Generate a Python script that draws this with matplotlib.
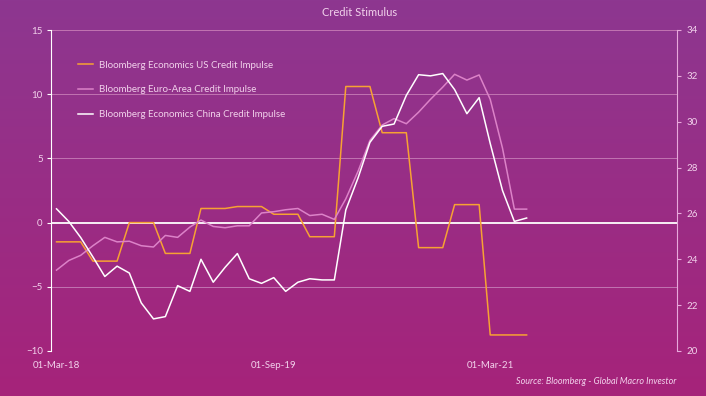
"""Credit Stimulus: US / Euro-Area / China credit impulse, GMI style."""

import matplotlib
matplotlib.use("Agg")
import matplotlib.pyplot as plt
import matplotlib.dates as mdates
import numpy as np
import pandas as pd

plt.rcParams["font.family"] = ["Lato", "DejaVu Sans"]

# monthly, Mar-2018 .. Jun-2021
dates = pd.date_range("2018-03-01", periods=40, freq="MS")

us_impulse = [-1.5, -1.5, -1.5, -3.0, -3.0, -3.0, 0.0, 0.0, 0.0, -2.4,
              -2.4, -2.4, 1.1, 1.1, 1.1, 1.25, 1.25, 1.25, 0.65, 0.65,
              0.65, -1.1, -1.1, -1.1, 10.6, 10.6, 10.6, 7.0, 7.0, 7.0,
              -1.95, -1.95, -1.95, 1.4, 1.4, 1.4, -8.75, -8.75, -8.75, -8.75]

euro_impulse = [-3.7, -2.95, -2.55, -1.8, -1.15, -1.5, -1.45, -1.8, -1.9, -1.0,
                -1.15, -0.35, 0.2, -0.3, -0.4, -0.25, -0.25, 0.75, 0.85, 1.0,
                1.1, 0.55, 0.65, 0.25, 1.85, 4.0, 6.4, 7.6, 8.1, 7.7,
                8.6, 9.6, 10.55, 11.55, 11.1, 11.5, 9.6, 5.8, 1.05, 1.05]

# right axis
china_impulse = [26.2, 25.65, 24.95, 24.1, 23.25, 23.7, 23.4, 22.1, 21.4, 21.5,
                 22.85, 22.6, 24.0, 23.0, 23.65, 24.25, 23.15, 22.95, 23.2, 22.6,
                 23.0, 23.15, 23.1, 23.1, 26.15, 27.55, 29.1, 29.8, 29.9, 31.15,
                 32.05, 32.0, 32.1, 31.4, 30.35, 31.05, 29.05, 27.0, 25.65, 25.8]

xtick_dates = pd.to_datetime(["2018-03-01", "2019-09-01", "2021-03-01"])

TXT = "#f2d2ec"
GRID = "#c274b2"

fig = plt.figure(figsize=(7.06, 3.96), dpi=100)

# vertical purple -> magenta gradient background
bg = fig.add_axes([0, 0, 1, 1], zorder=-10)
top = np.array([0x8d, 0x37, 0x90]) / 255
bot = np.array([0xa6, 0x23, 0x7a]) / 255
t = np.linspace(0, 1, 256)[:, None]
grad = (top * (1 - t) + bot * t)[:, None, :]
bg.imshow(grad, aspect="auto", extent=[0, 1, 0, 1])
bg.set_axis_off()

ax = fig.add_axes([51 / 706, 45 / 396, 626 / 706, 321 / 396])
ax.patch.set_alpha(0)
ax2 = ax.twinx()

l_us, = ax.plot(dates, us_impulse, color="#f7a233", lw=1.1,
                label="Bloomberg Economics US Credit Impulse")
l_eu, = ax.plot(dates, euro_impulse, color="#dc82c8", lw=1.1,
                label="Bloomberg Euro-Area Credit Impulse")
l_cn, = ax2.plot(dates, china_impulse, color="white", lw=1.1,
                 label="Bloomberg Economics China Credit Impulse")

ax.axhline(0, color="white", lw=1.3, zorder=1)

ax.set_ylim(-10, 15)
ax.set_yticks(range(-10, 16, 5))
ax2.set_ylim(20, 34)
ax2.set_yticks(range(20, 35, 2))
ax.set_xlim(pd.Timestamp("2018-02-15"), pd.Timestamp("2022-06-16"))

ax.set_xticks(xtick_dates)
ax.xaxis.set_major_formatter(mdates.DateFormatter("%d-%b-%y"))

for y in [-10, -5, 5, 10, 15]:
    ax.axhline(y, color=GRID, lw=0.7, zorder=0)

for a in (ax, ax2):
    for s in ("top", "bottom"):
        a.spines[s].set_visible(False)
ax.spines["right"].set_visible(False)
ax2.spines["left"].set_visible(False)
ax.spines["left"].set_color("white")
ax2.spines["right"].set_color("#e8a8dc")

ax.tick_params(axis="y", colors="white", labelcolor=TXT, length=3,
               width=0.8, labelsize=7, pad=3)
ax2.tick_params(axis="y", colors="#e8a8dc", labelcolor=TXT, length=3,
                width=0.8, labelsize=7, pad=4)
ax.tick_params(axis="x", length=0, labelcolor=TXT, labelsize=7, pad=7)

leg = ax2.legend(handles=[l_us, l_eu, l_cn], loc="upper left",
                 bbox_to_anchor=(0.043, 0.904), frameon=False, fontsize=7,
                 borderpad=0, borderaxespad=0, handlelength=1.6,
                 handletextpad=0.55, labelspacing=1.6)
for txt in leg.get_texts():
    txt.set_color(TXT)

fig.text(360 / 706, 1 - 12 / 396, "Credit Stimulus", ha="center", va="center",
         color=TXT, fontsize=8)
fig.text(676 / 706, 1 - 382 / 396, "Source: Bloomberg - Global Macro Investor",
         ha="right", va="center", color=TXT, fontsize=6.5, style="italic")

fig.savefig("out.png", dpi=100)
print("wrote out.png")
